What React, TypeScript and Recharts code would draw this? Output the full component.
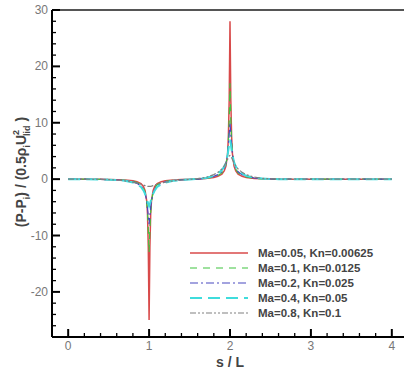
import React from 'react';
import { LineChart, Line, XAxis, YAxis, ReferenceLine } from 'recharts';

// s / L positions along the cavity wall
const sGrid = [
  0, 0.2, 0.4, 0.5, 0.6, 0.7, 0.8, 0.85, 0.9, 0.93, 0.95, 0.97, 0.98, 0.99, 1.0,
  1.01, 1.02, 1.03, 1.05, 1.07, 1.1, 1.15, 1.2, 1.3, 1.4, 1.5, 1.6, 1.7, 1.8, 1.85,
  1.9, 1.93, 1.95, 1.97, 1.98, 1.99, 2.0, 2.01, 2.02, 2.03, 2.05, 2.07, 2.1, 2.15,
  2.2, 2.3, 2.4, 2.5, 2.6, 2.8, 3.0, 3.5, 4.0,
];

const ma005 = [
  0, 0, -0.02, -0.05, -0.1, -0.15, -0.3, -0.45, -0.8, -1.3, -2.0, -3.8, -6, -12, -25,
  -12, -6, -3.8, -2.0, -1.3, -0.8, -0.45, -0.3, -0.15, -0.08, -0.03, 0, 0.1, 0.3, 0.5,
  0.9, 1.5, 2.3, 4.5, 7.5, 14, 28, 14, 7.5, 4.5, 2.3, 1.5, 0.9, 0.5,
  0.3, 0.12, 0.05, 0.02, 0, 0, 0, 0, 0,
];
const ma01 = [
  0, 0, -0.03, -0.06, -0.12, -0.2, -0.4, -0.6, -1.0, -1.6, -2.3, -4.0, -5.8, -8.8, -13,
  -8.8, -5.8, -4.0, -2.3, -1.6, -1.0, -0.6, -0.4, -0.2, -0.1, -0.04, 0, 0.12, 0.4, 0.65,
  1.1, 1.8, 2.6, 4.6, 6.8, 10.5, 17, 10.5, 6.8, 4.6, 2.6, 1.8, 1.1, 0.65,
  0.4, 0.15, 0.06, 0.02, 0, 0, 0, 0, 0,
];
const ma02 = [
  0, 0, -0.04, -0.08, -0.15, -0.25, -0.5, -0.75, -1.2, -1.8, -2.5, -3.8, -5, -6.5, -8,
  -6.5, -5, -3.8, -2.5, -1.8, -1.2, -0.75, -0.5, -0.25, -0.12, -0.05, 0, 0.15, 0.5, 0.8,
  1.3, 2.0, 2.8, 4.5, 6, 8, 10, 8, 6, 4.5, 2.8, 2.0, 1.3, 0.8,
  0.5, 0.2, 0.08, 0.03, 0, 0, 0, 0, 0,
];
const ma04 = [
  0, 0, -0.05, -0.1, -0.15, -0.3, -0.6, -0.9, -1.4, -2.0, -2.6, -3.4, -3.9, -4.4, -4.8,
  -4.4, -3.9, -3.4, -2.6, -2.0, -1.4, -0.9, -0.6, -0.3, -0.15, -0.06, 0.05, 0.2, 0.6, 1.0,
  1.6, 2.3, 3.0, 4.3, 5.2, 6.2, 7, 6.2, 5.2, 4.3, 3.0, 2.3, 1.6, 1.0,
  0.6, 0.25, 0.1, 0.04, 0, 0, 0, 0, 0,
];
const ma08 = [
  0, 0, -0.05, -0.08, -0.15, -0.3, -0.55, -0.7, -0.9, -1.05, -1.15, -1.25, -1.28, -1.3, -1.3,
  -1.3, -1.28, -1.25, -1.15, -1.05, -0.9, -0.7, -0.55, -0.3, -0.15, -0.05, 0.1, 0.3, 0.8, 1.2,
  1.8, 2.4, 2.9, 3.5, 3.8, 4.1, 4.2, 4.1, 3.8, 3.5, 2.9, 2.4, 1.8, 1.2,
  0.8, 0.35, 0.15, 0.06, 0.02, 0, 0, 0, 0,
];

const series = [
  { key: 'ma005', name: 'Ma=0.05, Kn=0.00625', values: ma005, color: '#d84a4a', dash: undefined, width: 1.5 },
  { key: 'ma01', name: 'Ma=0.1, Kn=0.0125', values: ma01, color: '#3fc43f', dash: '7 6', width: 1.2 },
  { key: 'ma02', name: 'Ma=0.2, Kn=0.025', values: ma02, color: '#4848c0', dash: '8 3 2 3', width: 1.2 },
  { key: 'ma04', name: 'Ma=0.4, Kn=0.05', values: ma04, color: '#3fdcdc', dash: '12 6', width: 2 },
  { key: 'ma08', name: 'Ma=0.8, Kn=0.1', values: ma08, color: '#808080', dash: '6 2 2 2 2 2', width: 1.2 },
];

const xTicks = Array.from({ length: 21 }, (_, i) => Math.round(i * 2) / 10);
const yTicks = Array.from({ length: 30 }, (_, i) => -28 + i * 2);

const data = sGrid.map((s, i) => {
  const row: Record<string, number> = { s };
  series.forEach(sr => { row[sr.key] = sr.values[i]; });
  return row;
});

const FONT = '"Liberation Sans", Arial, sans-serif';

const XTick = (props: any) => {
  const { x, y, payload } = props;
  const v = payload.value;
  const major = Math.abs(v - Math.round(v)) < 1e-6;
  return (
    <g>
      <line x1={x} x2={x} y1={y} y2={y - (major ? 8 : 4)} stroke="#000" strokeWidth={major ? 2 : 1.3} />
      {major && (
        <text x={x} y={y + 13} textAnchor="middle" fontSize={12} fill="#777" fontFamily={FONT}>
          {Math.round(v)}
        </text>
      )}
    </g>
  );
};

const YTick = (props: any) => {
  const { x, y, payload } = props;
  const v = payload.value;
  const major = v % 10 === 0;
  return (
    <g>
      <line x1={x} x2={x + (major ? 8 : 4)} y1={y} y2={y} stroke="#000" strokeWidth={major ? 2 : 1.3} />
      {major && (
        <text x={x - 4} y={y + 4} textAnchor="end" fontSize={12} fill="#777" fontFamily={FONT}>
          {v}
        </text>
      )}
    </g>
  );
};

const LegendBox = () => (
  <g transform="translate(190,245)">
    {series.map((sr, i) => (
      <g key={sr.key}>
        <line x1={0} x2={58} y1={8 + i * 15} y2={8 + i * 15} stroke={sr.color}
          strokeDasharray={sr.dash} strokeWidth={sr.width} />
        <text x={68} y={12 + i * 15} fontSize={11.5} fontWeight="bold" fill="#444" fontFamily={FONT}>
          {sr.name}
        </text>
      </g>
    ))}
  </g>
);

const YLabel = () => (
  <text transform="translate(26,172) rotate(-90)" textAnchor="middle" fontSize={14}
    fontWeight="bold" fill="#444" fontFamily={FONT}>
    (P-P<tspan fontSize={9} dy={4}>i</tspan><tspan dy={-4}>) / (0.5ρ</tspan>
    <tspan fontSize={9} dy={4}>i</tspan><tspan dy={-4}>U</tspan>
    <tspan fontSize={9} dy={-7}>2</tspan><tspan fontSize={9} dx={-6} dy={11}>lid</tspan>
    <tspan dy={-4}> )</tspan>
  </text>
);

export default function App() {
  return (
    <div style={{ position: 'absolute', left: 0, top: 0, width: 404, height: 370, overflow: 'hidden', background: '#fff' }}>
      <LineChart width={420} height={370} data={data} margin={{ top: 10, right: 12, left: 0, bottom: 0 }}>
        <XAxis dataKey="s" type="number" domain={[-0.2, 4.2]} ticks={xTicks} interval={0}
          tickSize={0} tickMargin={0} tick={<XTick />} tickLine={false}
          axisLine={{ stroke: '#000', strokeWidth: 2 }} height={33} allowDataOverflow />
        <YAxis type="number" domain={[-28, 30]} ticks={yTicks} interval={0}
          tickSize={0} tickMargin={0} tick={<YTick />} tickLine={false}
          axisLine={{ stroke: '#000', strokeWidth: 2 }} width={52} allowDataOverflow />
        <ReferenceLine y={30} stroke="#555" strokeWidth={2} />
        {series.map(sr => (
          <Line key={sr.key} dataKey={sr.key} name={sr.name} type="linear" stroke={sr.color}
            strokeDasharray={sr.dash} strokeWidth={sr.width} dot={false} isAnimationActive={false} />
        ))}
      </LineChart>
      <svg width={404} height={370} style={{ position: 'absolute', left: 0, top: 0, pointerEvents: 'none' }}>
        <LegendBox />
        <YLabel />
        <text x={230} y={367} textAnchor="middle" fontSize={14} fontWeight="bold" fill="#444" fontFamily={FONT}>
          s / L
        </text>
      </svg>
    </div>
  );
}
